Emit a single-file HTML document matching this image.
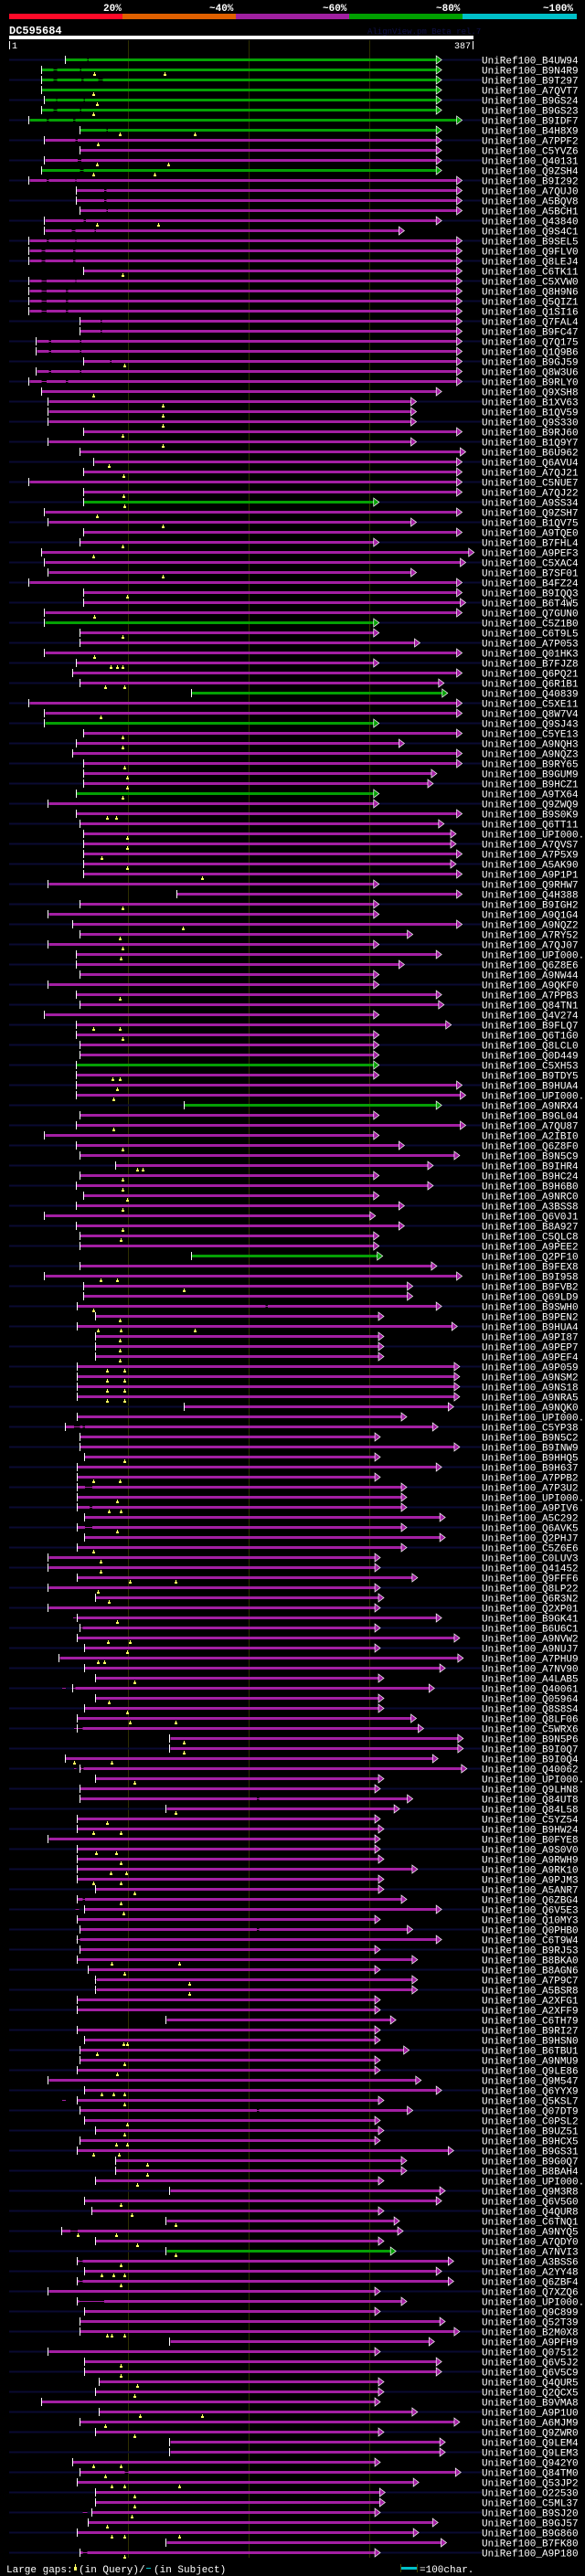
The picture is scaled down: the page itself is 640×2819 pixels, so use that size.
<!DOCTYPE html>
<html><head><meta charset="utf-8"><style>
html,body{margin:0;padding:0;background:#000;}
svg{display:block;}
text{font-family:"Liberation Mono",monospace;}
</style></head><body>
<svg id="chart" width="640" height="2819" viewBox="0 0 640 2819" xmlns="http://www.w3.org/2000/svg" shape-rendering="crispEdges">
<rect x="0" y="0" width="640" height="2819" fill="#000"/>
<g>
<rect x="10" y="15" width="124" height="6" fill="#ff0a28"/>
<rect x="134" y="15" width="124" height="6" fill="#e06000"/>
<rect x="258" y="15" width="124" height="6" fill="#a020a0"/>
<rect x="382" y="15" width="124" height="6" fill="#00a000"/>
<rect x="506" y="15" width="125" height="6" fill="#00c0c8"/>
<text x="113" y="12" fill="#fff" font-size="11" font-weight="bold">20%</text>
<text x="229" y="12" fill="#fff" font-size="11" font-weight="bold">~40%</text>
<text x="353" y="12" fill="#fff" font-size="11" font-weight="bold">~60%</text>
<text x="477" y="12" fill="#fff" font-size="11" font-weight="bold">~80%</text>
<text x="594" y="12" fill="#fff" font-size="11" font-weight="bold">~100%</text>
</g>
<text x="10" y="37" fill="#fff" font-size="12" font-weight="bold">DC595684</text>
<text x="402" y="37" fill="#101048" font-size="9">AlignView.pm Beta rel.7</text>
<rect x="10" y="39" width="508" height="4" fill="#fff"/>
<rect x="10" y="45" width="1" height="9" fill="#fff"/>
<text x="13" y="53" fill="#fff" font-size="10">1</text>
<text x="515" y="53" fill="#fff" font-size="10" text-anchor="end">387</text>
<rect x="517" y="45" width="1" height="9" fill="#fff"/>
<g id="grid"></g>
<g id="rows"></g>
<g>
<text x="7" y="2815" fill="#fff" font-size="11">Large gaps: </text>
<rect x="82" y="2806" width="1" height="3" fill="#ffff60"/>
<rect x="81" y="2809" width="3" height="4" fill="#ffff60"/>
<text x="86" y="2815" fill="#fff" font-size="11">(in Query)/</text>
<rect x="160" y="2810" width="5" height="1" fill="#00c0c8"/>
<text x="168" y="2815" fill="#fff" font-size="11">(in Subject)</text>
<rect x="439" y="2809" width="17" height="3" fill="#00c0c8"/>
<rect x="438" y="2806" width="1" height="9" fill="#444400"/>
<rect x="456" y="2806" width="1" height="9" fill="#444400"/>
<text x="459" y="2815" fill="#fff" font-size="11">=100char.</text>
</g>
</svg>
<script>
const names = ["B4UW94","B9N4R9","B9T297","A7QVT7","B9GS24","B9GS23","B9IDF7","B4H8X9","A7PPF2","C5YVZ6","Q40131","Q9ZSH4","B9I292","A7QUJ0","A5BQV8","A5BCH1","Q43840","Q9S4C1","B9SEL5","Q9FLV0","Q8LEJ4","C6TK11","C5XVW0","Q8H9N6","Q5QIZ1","Q1SI16","Q7FAL4","B9FC47","Q7Q175","Q1Q9B6","B9GJ59","Q8W3U6","B9RLY0","Q9XSH8","B1XV63","B1QV59","Q9S330","B9RJ60","B1Q9Y7","B6U962","Q6AVU4","A7QJ21","C5NUE7","A7QJ22","A9SS34","Q9ZSH7","B1QV75","A9TQE0","B7FHL4","A9PEF3","C5XAC4","B7SF01","B4FZ24","B9IQQ3","B6T4W5","Q7GUN0","C5Z1B0","C6T9L5","A7P053","Q01HK3","B7FJZ8","Q6PQ21","Q6R1B1","Q40839","C5XE11","Q8W7V4","Q9SJ43","C5YE13","A9NQH3","A9NQZ3","B9RY65","B9GUM9","B9HCZ1","A9TX64","Q9ZWQ9","B9S0K9","Q6TT11","UPI000..","A7QVS7","A7P5X9","A5AK90","A9P1P1","Q9RHW7","Q4H388","B9IGH2","A9Q1G4","A9NQZ2","A7RY52","A7QJ07","UPI000..","Q6Z8E6","A9NW44","A9QKF0","A7PPB3","Q84TN1","Q4V274","B9FLQ7","Q6T1G0","Q8LCL0","Q0D449","C5XH53","B9TDY5","B9HUA4","UPI000..","A9NRX4","B9GL04","A7QU87","A2IBI0","Q6Z8F0","B9N5C9","B9IHR4","B9HC24","B9H6B0","A9NRC0","A3BSS8","Q6V0J1","B8A927","C5QLC8","A9PEE2","Q2PF10","B9FEX8","B9I958","B9FVB2","Q69LD9","B9SWH0","B9PEN2","B9HUA4","A9PI87","A9PEP7","A9PEF4","A9P059","A9NSM2","A9NS18","A9NRA5","A9NQK0","UPI000..","C5YP38","B9N5C2","B9INW9","B9HHQ5","B9H637","A7PPB2","A7P3U2","UPI000..","A9PIV6","A5C292","Q6AVK5","Q2PHJ7","C5Z6E6","C0LUV3","Q41452","Q9FFF6","Q8LP22","Q6R3N2","Q2XP01","B9GK41","B6U6C1","A9NVW2","A9NUJ7","A7PHU9","A7NV90","A4LAB5","Q40061","Q05964","Q8S8S4","Q8LF06","C5WRX6","B9N5P6","B9I0Q7","B9I0Q4","Q40062","UPI000..","Q9LHN8","Q84UT8","Q84L58","C5YZ54","B9HW24","B0FYE8","A9S0V0","A9RWH9","A9RK10","A9PJM3","A5ANR7","Q6ZBG4","Q6V5E3","Q10MY3","Q0PHB0","C6T9W4","B9RJ53","B8BKA0","B8AGN6","A7P9C7","A5BSR8","A2XFG1","A2XFF9","C6TH79","B9RI27","B9HSN0","B6TBU1","A9NMU9","Q9LE86","Q9M547","Q6YYX9","Q5KSL7","Q07DT9","C0PSL2","B9UZ51","B9HCX5","B9GS31","B9G0Q7","B8BAH4","UPI000..","Q9M3R8","Q6V5G0","Q4QUR8","C6TNQ1","A9NYQ5","A7QDY0","A7NVI3","A3BSS6","A2YY48","Q6ZBF4","Q7XZQ6","UPI000..","Q9C899","Q52T39","B2M0X8","A9PFH9","Q07512","Q6V5J2","Q6V5C9","Q4QUR5","Q2QCX5","B9VMA8","A9P1U0","A6MJM9","Q9ZWR0","Q9LEM4","Q9LEM3","Q942Y0","Q84TM0","Q53JP2","O22530","C5ML37","B9SJ20","B9GJ57","B9G860","B7FK80","A9P180"];
const starts = [48,28,28,28,31,28,18,60,31,60,31,28,18,57,57,60,31,31,18,18,18,63,18,18,18,18,60,60,24,24,63,
24,18,28,34,34,34,63,34,60,72,63,18,63,63,31,34,63,60,28,31,34,18,63,63,31,31,60,60,31,57,54,
60,153,18,31,31,63,57,54,63,63,63,57,34,57,60,63,63,63,63,63,34,141,60,34,54,60,34,57,57,60,34,
57,60,31,57,57,60,60,57,57,57,57,147,60,57,31,57,60,90,60,57,63,57,31,57,60,60,153,60,31,63,63,
58,73,58,73,73,73,58,58,58,58,147,58,48,60,60,64,58,58,58,58,58,64,58,64,58,34,34,58,34,
73,34,58,60,58,64,43,64,73,54,73,64,58,58,135,135,48,60,73,60,60,132,58,58,34,58,58,58,58,
73,58,64,58,60,58,60,58,67,73,73,58,58,132,58,64,60,60,58,34,64,58,60,64,73,60,58,90,90,
73,135,64,70,132,45,73,132,58,64,58,34,58,64,60,60,135,34,64,64,76,73,28,76,60,73,135,135,54,
60,58,73,73,70,67,58,132,60];
const ends = [356,356,356,356,356,356,373,356,356,356,356,356,373,373,373,373,356,325,373,373,373,373,373,373,373,373,373,373,373,373,373,
373,373,356,335,335,335,373,335,376,373,373,373,373,304,373,335,373,304,383,376,335,373,373,376,373,304,304,338,373,304,373,
358,361,373,373,304,373,325,373,373,352,349,304,304,373,358,368,368,373,368,373,304,373,304,304,373,332,304,356,325,304,304,
356,358,304,364,304,304,304,304,304,373,376,356,304,376,304,325,371,349,304,349,304,325,301,325,304,304,307,352,373,332,332,
356,308,369,308,308,308,371,371,371,371,366,327,353,305,371,305,356,305,327,327,327,359,327,359,327,305,305,336,305,
308,305,356,305,371,305,374,359,308,350,308,308,335,341,374,374,353,377,308,305,332,321,305,308,305,305,308,336,308,
308,327,356,305,332,356,305,336,305,336,336,305,305,318,305,305,329,305,305,339,356,308,332,305,308,305,366,327,327,
308,359,356,308,321,324,308,318,366,356,366,305,327,305,359,371,350,305,356,356,308,308,305,336,371,308,359,359,305,
372,337,309,309,305,353,337,360,305];
const greenRows = [0,1,2,3,4,5,6,7,11,44,56,63,66,73,100,104,119,218];
const gapRows = [0,1,1,2,2,2,4,4,5,5,6,6,7,8,10,11,12,12,13,14,15,16,17,17,18,18,19,19,20,20,22,22,23,23,24,24,25,25,26,27,28,28,29,29,30,31,31,32,32,124,136,136,142,144,146,155,156,162,162,166,166,170,170,173,183,184,186,187,191,192,203,204,216,219,221,223,240,244,248];
const gapFrom = [66,38,60,38,61,75,40,63,38,60,32,54,82,56,58,60,32,56,80,80,82,63,53,72,32,56,28,54,28,54,28,56,28,48,28,48,28,48,77,77,34,60,34,60,85,34,60,28,48,214,55,62,64,68,64,54,60,45,53,55,59,55,61,207,62,56,207,57,72,72,45,207,52,59,59,59,97,62,62];
const gapTo = [67,41,61,41,63,79,41,64,41,61,34,56,83,58,61,63,34,57,82,82,83,65,56,73,34,57,31,56,31,56,32,57,32,50,32,50,32,50,78,78,36,61,36,61,86,36,61,32,50,216,60,64,70,70,70,57,62,48,56,60,62,57,63,209,64,59,209,60,74,74,48,209,58,62,62,80,100,66,66];
const markRows = [1,1,3,4,5,7,7,8,10,10,11,11,16,16,21,30,33,34,35,36,37,38,40,41,43,44,45,46,48,49,51,53,55,57,59,60,60,60,62,62,65,67,68,70,71,72,73,75,75,77,78,79,80,81,84,86,87,88,89,93,96,96,97,101,101,102,103,106,108,110,110,111,112,113,114,116,117,121,121,122,124,125,126,126,126,127,128,129,130,130,131,131,132,132,133,133,139,141,141,143,144,144,146,148,149,150,151,151,152,153,155,157,157,158,159,159,161,163,164,165,165,167,168,169,169,171,174,175,176,176,178,178,179,180,180,181,181,182,183,184,189,189,190,191,192,197,197,198,199,200,202,202,202,203,205,206,207,207,208,208,209,210,211,213,214,215,216,216,217,218,219,220,220,220,221,226,226,226,229,230,231,232,234,234,235,236,239,239,240,241,241,241,242,243,244,245,246,246,246,248];
const markPos = [72,130,71,74,71,93,155,75,74,133,71,122,74,125,95,97,71,129,129,129,95,129,84,96,96,97,74,129,95,71,129,99,72,95,72,85,91,95,81,97,77,95,95,97,99,99,95,82,90,99,99,78,99,161,95,145,93,95,94,93,71,93,95,87,93,91,88,88,95,107,112,95,95,99,95,95,94,77,91,146,71,93,75,94,155,93,93,93,82,97,82,97,82,97,82,97,97,71,93,91,84,94,91,71,77,77,101,139,75,84,91,83,101,99,75,80,105,84,99,101,139,146,146,55,86,105,139,82,71,94,73,90,94,85,98,71,94,105,94,96,86,142,97,151,151,96,99,74,97,91,78,88,97,97,99,97,90,99,71,92,116,116,107,94,103,139,58,90,107,139,94,78,88,97,94,82,86,97,94,94,107,105,110,161,81,105,71,94,81,86,97,142,105,105,103,82,86,97,142,97];

const NS = 'http://www.w3.org/2000/svg';
const QMIN = 1, QMAX = 387, X0 = 10, X1 = 518;
function xq(q){ return X0 + (q - QMIN) * (X1 - X0) / (QMAX - QMIN); }
function rowY(i){ return 65.5 + i * 11; }
function mk(tag, attrs, parent){
  const el = document.createElementNS(NS, tag);
  for (const k in attrs) el.setAttribute(k, attrs[k]);
  parent.appendChild(el);
  return el;
}
const grid = document.getElementById('grid');
const rowsG = document.getElementById('rows');
const gridTicks = [100, 200, 300];
for (const t of gridTicks){
  const gl = mk('rect', {x: Math.round(xq(t)), y: 44, width: 1, height: 2755, fill: '#2e2e00'}, grid);
  
  
}
for (let i = 0; i < names.length; i++){
  const cy = rowY(i);
  const g = mk('g', {}, rowsG);
  
  
  if (i % 2 === 0){
    const s = mk('rect', {x: 10, y: cy - 1, width: 517, height: 2, fill: '#0a0a32'}, g);
    
    
  }
  const col = greenRows.includes(i) ? '#05a005' : '#a31fa3';
  const xs = xq(starts[i]), xe = xq(ends[i]);
  const bar = mk('rect', {x: xs, y: cy - 1.5, width: xe - xs, height: 3, fill: col}, g);
  
  
  for (let k = 0; k < gapRows.length; k++){
    if (gapRows[k] !== i) continue;
    const ga = xq(gapFrom[k]), gb = xq(gapTo[k]);
    const gr = mk('rect', {x: ga, y: cy - 1.5, width: gb - ga, height: 3, fill: '#000'}, g);
    
    
    const gl = mk('rect', {x: ga, y: cy - 0.5, width: gb - ga, height: 1, fill: col}, g);
    
    
  }
  const tick = mk('rect', {x: Math.round(xs) - 1, y: cy - 4.5, width: 1, height: 9, fill: '#fff'}, g);
  
  
  const ar = mk('polygon', {points: `${xe},${cy-4.5} ${xe+6},${cy} ${xe},${cy+4.5}`, fill: col, stroke: '#fff', 'stroke-width': 0.7, 'shape-rendering': 'auto'}, g);
  
  
  const lab = mk('text', {x: 527, y: cy + 4, fill: '#fff', 'font-size': 11}, g);
  lab.textContent = 'UniRef100_' + names[i];
  
  
}
for (let k = 0; k < markRows.length; k++){
  const cy = rowY(markRows[k]);
  const mx = Math.round(xq(markPos[k]));
  const st = mk('rect', {x: mx, y: cy + 2.5, width: 1, height: 2, fill: '#ffff60'}, rowsG);
  
  
  const m = mk('rect', {x: mx - 1, y: cy + 4.5, width: 3, height: 2, fill: '#ffff60'}, rowsG);
  
  
}
</script>
</body></html>
